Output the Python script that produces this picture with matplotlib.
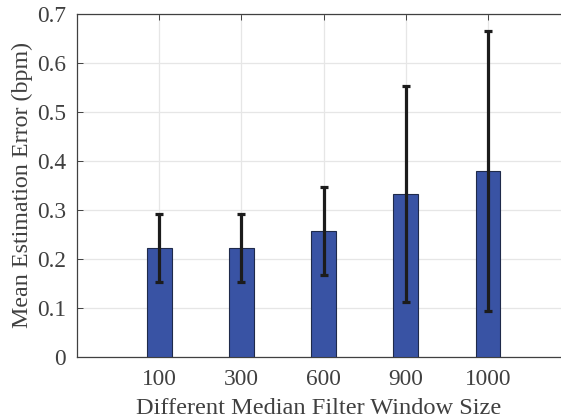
import matplotlib
matplotlib.use('Agg')
import matplotlib.pyplot as plt
import numpy as np

# window sizes and mean error with its spread
windows = ['100', '300', '600', '900', '1000']
mean_err = [0.222, 0.222, 0.257, 0.332, 0.380]
std_err = [0.070, 0.070, 0.089, 0.221, 0.286]

plt.rcParams['font.family'] = ['Liberation Serif', 'DejaVu Serif']

txt = '#404040'
fig = plt.figure(figsize=(5.61, 4.19), dpi=100)
# axes run off the right edge, so the right side of the box is not shown
left, unit, right = 77, 82.2, 600
ax = fig.add_axes([left/561, 62.3/419, (right - left)/561, 342.4/419])
ax.patch.set_visible(False)

x = np.arange(1, len(windows)+1)
ax.bar(x, mean_err, width=0.3, color='#3953a4', edgecolor='#1f2a4a', lw=0.8, zorder=3)
ax.errorbar(x, mean_err, yerr=std_err, fmt='none', ecolor='#1c1c1c',
            elinewidth=2.3, capsize=2.6, capthick=2.3, zorder=4)

ax.set_xlim(0, (right - left)/unit)
ax.set_ylim(0, 0.7)
ax.set_xticks(x)
ax.set_xticklabels(windows)
ax.set_yticks(np.arange(0, 0.71, 0.1))
ax.set_yticklabels(['0'] + [f'{v:.1f}' for v in np.arange(0.1, 0.71, 0.1)])
ax.grid(True, color='#e6e6e6', lw=0.9, zorder=0)
ax.set_axisbelow(True)
ax.tick_params(direction='in', top=True, right=False, length=4, width=0.7,
               colors='#404040', labelsize=16.8, labelcolor=txt)
ax.tick_params(axis='y', pad=8)
ax.tick_params(axis='x', pad=9)
for s in ['left', 'bottom', 'top']:
    ax.spines[s].set_color('#404040')
    ax.spines[s].set_linewidth(0.9)
ax.spines['right'].set_visible(False)

ax.set_xlabel('Different Median Filter Window Size', fontsize=17.6, color=txt, labelpad=2)
ax.set_ylabel('Mean Estimation Error (bpm)', fontsize=17.3, color=txt, labelpad=3)
ax.xaxis.set_label_coords((319 - left)/(right - left), -0.12)

fig.savefig('out.png', dpi=100)
